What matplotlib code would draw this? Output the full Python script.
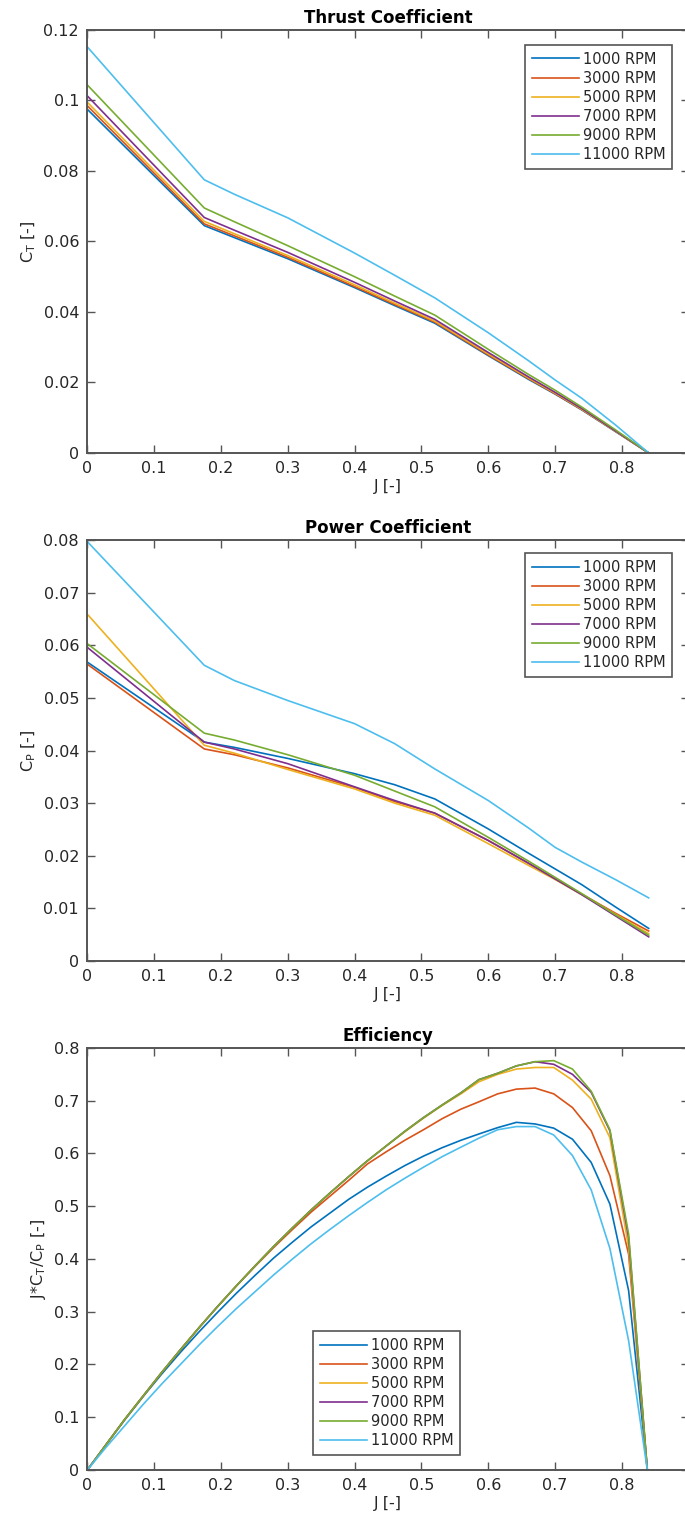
#!/usr/bin/env python3
"""Propeller thrust, power and efficiency curves for several rotor speeds."""

from __future__ import annotations

import matplotlib

matplotlib.use("Agg")
import matplotlib.pyplot as plt
from matplotlib.ticker import FormatStrFormatter

LABELS = ["1000 RPM", "3000 RPM", "5000 RPM", "7000 RPM", "9000 RPM", "11000 RPM"]
COLORS = ["#0072BD", "#D95319", "#EDB120", "#7E2F8E", "#77AC30", "#4DBEEE"]

# advance ratio samples for the coefficient curves
J_COEF = [0, 0.175, 0.22, 0.30, 0.40, 0.46, 0.52, 0.60, 0.66, 0.70, 0.74, 0.79, 0.84]

CT_1000 = [0.0975, 0.0645, 0.0611, 0.0551, 0.0469, 0.0418, 0.0368, 0.0276, 0.0209, 0.0167, 0.0122, 0.0061, 0.0]
CT_3000 = [0.0985, 0.0650, 0.0616, 0.0555, 0.0472, 0.0421, 0.0371, 0.0278, 0.0211, 0.0168, 0.0123, 0.0062, 0.0]
CT_5000 = [0.0995, 0.0657, 0.0622, 0.0560, 0.0477, 0.0425, 0.0374, 0.0281, 0.0213, 0.0170, 0.0124, 0.0062, 0.0]
CT_7000 = [0.1013, 0.0668, 0.0632, 0.0569, 0.0484, 0.0431, 0.0379, 0.0285, 0.0216, 0.0172, 0.0126, 0.0063, 0.0]
CT_9000 = [0.1044, 0.0695, 0.0656, 0.0588, 0.0500, 0.0445, 0.0391, 0.0294, 0.0223, 0.0178, 0.0130, 0.0066, 0.0]
CT_11000 = [0.1152, 0.0775, 0.0734, 0.0667, 0.0567, 0.0504, 0.0440, 0.0341, 0.0262, 0.0207, 0.0155, 0.0080, 0.0]

CP_1000 = [0.0568, 0.0416, 0.0406, 0.0385, 0.0356, 0.0335, 0.0308, 0.0251, 0.0205, 0.0175, 0.0145, 0.0103, 0.0062]
CP_3000 = [0.0564, 0.0403, 0.0392, 0.0367, 0.0330, 0.0303, 0.0281, 0.0229, 0.0186, 0.0156, 0.0127, 0.0091, 0.0057]
CP_5000 = [0.0659, 0.0410, 0.0395, 0.0364, 0.0327, 0.0300, 0.0277, 0.0223, 0.0182, 0.0155, 0.0126, 0.0089, 0.0052]
CP_7000 = [0.0596, 0.0416, 0.0403, 0.0375, 0.0331, 0.0305, 0.0281, 0.0229, 0.0186, 0.0156, 0.0126, 0.0086, 0.0046]
CP_9000 = [0.0603, 0.0433, 0.0420, 0.0392, 0.0353, 0.0323, 0.0293, 0.0235, 0.0190, 0.0159, 0.0128, 0.0088, 0.0049]
CP_11000 = [0.0797, 0.0562, 0.0533, 0.0495, 0.0451, 0.0413, 0.0365, 0.0305, 0.0253, 0.0216, 0.0188, 0.0155, 0.0120]

# advance ratio samples for the efficiency curves
J_EFF = [0.000, 0.028, 0.056, 0.084, 0.112, 0.140, 0.168, 0.195, 0.223, 0.251,
         0.279, 0.307, 0.335, 0.363, 0.391, 0.419, 0.447, 0.475, 0.503, 0.531,
         0.559, 0.586, 0.614, 0.642, 0.670, 0.698, 0.726, 0.754, 0.782, 0.810, 0.838]

EFF_1000 = [0, 0.048, 0.095, 0.140, 0.183, 0.224, 0.263, 0.299, 0.335, 0.369,
            0.402, 0.432, 0.461, 0.487, 0.513, 0.536, 0.557, 0.577, 0.595, 0.611,
            0.625, 0.637, 0.649, 0.659, 0.656, 0.648, 0.627, 0.583, 0.504, 0.340, 0]
EFF_3000 = [0, 0.048, 0.096, 0.141, 0.186, 0.229, 0.271, 0.310, 0.349, 0.386,
            0.422, 0.456, 0.489, 0.519, 0.549, 0.580, 0.603, 0.625, 0.645, 0.666,
            0.684, 0.698, 0.713, 0.722, 0.724, 0.713, 0.687, 0.643, 0.558, 0.409, 0]
EFF_5000 = [0, 0.048, 0.096, 0.141, 0.186, 0.229, 0.271, 0.310, 0.349, 0.387,
            0.424, 0.459, 0.493, 0.525, 0.556, 0.586, 0.614, 0.641, 0.667, 0.691,
            0.713, 0.736, 0.750, 0.760, 0.763, 0.763, 0.739, 0.703, 0.630, 0.422, 0]
EFF_7000 = [0, 0.048, 0.096, 0.141, 0.186, 0.229, 0.271, 0.310, 0.349, 0.387,
            0.424, 0.459, 0.493, 0.525, 0.556, 0.586, 0.614, 0.642, 0.668, 0.692,
            0.715, 0.740, 0.752, 0.766, 0.774, 0.769, 0.750, 0.716, 0.643, 0.440, 0]
EFF_9000 = [0, 0.048, 0.096, 0.141, 0.186, 0.229, 0.271, 0.310, 0.349, 0.387,
            0.424, 0.459, 0.493, 0.525, 0.556, 0.586, 0.614, 0.642, 0.668, 0.692,
            0.715, 0.740, 0.752, 0.766, 0.774, 0.776, 0.760, 0.718, 0.645, 0.447, 0]
EFF_11000 = [0, 0.043, 0.084, 0.125, 0.164, 0.201, 0.238, 0.272, 0.306, 0.338,
             0.370, 0.400, 0.429, 0.456, 0.482, 0.507, 0.531, 0.553, 0.574, 0.594,
             0.612, 0.629, 0.645, 0.651, 0.651, 0.635, 0.596, 0.531, 0.420, 0.245, 0]

CT_SERIES = [CT_1000, CT_3000, CT_5000, CT_7000, CT_9000, CT_11000]
CP_SERIES = [CP_1000, CP_3000, CP_5000, CP_7000, CP_9000, CP_11000]
EFF_SERIES = [EFF_1000, EFF_3000, EFF_5000, EFF_7000, EFF_9000, EFF_11000]

X_TICKS = [0, 0.1, 0.2, 0.3, 0.4, 0.5, 0.6, 0.7, 0.8]
CT_TICKS = [0, 0.02, 0.04, 0.06, 0.08, 0.1, 0.12]
CP_TICKS = [0, 0.01, 0.02, 0.03, 0.04, 0.05, 0.06, 0.07, 0.08]
EFF_TICKS = [0, 0.1, 0.2, 0.3, 0.4, 0.5, 0.6, 0.7, 0.8]

AXIS_GRAY = "#555555"
TEXT_GRAY = "#262626"


def style_axes(ax, title, ylabel, yticks):
    ax.set_xlim(0, 0.9)
    ax.set_ylim(yticks[0], yticks[-1])
    ax.set_xticks(X_TICKS)
    ax.set_yticks(yticks)
    ax.xaxis.set_major_formatter(FormatStrFormatter("%g"))
    ax.yaxis.set_major_formatter(FormatStrFormatter("%g"))
    ax.tick_params(direction="in", top=True, right=True, length=6, width=1.0,
                   color=AXIS_GRAY, labelcolor=TEXT_GRAY, labelsize=11.5, pad=6)
    for spine in ax.spines.values():
        spine.set_color(AXIS_GRAY)
        spine.set_linewidth(1.4)
    ax.set_title(title, fontsize=12, fontweight="bold", color="black", pad=5)
    ax.set_xlabel("J [-]", fontsize=11.5, color=TEXT_GRAY, labelpad=2)
    ax.set_ylabel(ylabel, fontsize=11.5, color=TEXT_GRAY, labelpad=4)


def add_legend(ax, loc, anchor):
    leg = ax.legend(loc=loc, bbox_to_anchor=anchor, borderaxespad=0, fontsize=10.5,
                    handlelength=3.2, handletextpad=0.3, labelspacing=0.28,
                    borderpad=0.45, fancybox=False, framealpha=1)
    leg.get_frame().set_edgecolor(AXIS_GRAY)
    leg.get_frame().set_linewidth(1.2)
    for text in leg.get_texts():
        text.set_color(TEXT_GRAY)


def main() -> int:
    fig = plt.figure(figsize=(6.85, 15.23), dpi=100)
    left, width = 0.1275, 0.878
    ax_ct = fig.add_axes([left, 0.7026, width, 0.2777])
    ax_cp = fig.add_axes([left, 0.3690, width, 0.2764])
    ax_eff = fig.add_axes([left, 0.0348, width, 0.2771])

    for values, label, color in zip(CT_SERIES, LABELS, COLORS):
        ax_ct.plot(J_COEF, values, color=color, linewidth=1.2, label=label)
    for values, label, color in zip(CP_SERIES, LABELS, COLORS):
        ax_cp.plot(J_COEF, values, color=color, linewidth=1.2, label=label)
    for values, label, color in zip(EFF_SERIES, LABELS, COLORS):
        ax_eff.plot(J_EFF, values, color=color, linewidth=1.2, label=label)

    style_axes(ax_ct, "Thrust Coefficient", r"C$_\mathrm{T}$ [-]", CT_TICKS)
    style_axes(ax_cp, "Power Coefficient", r"C$_\mathrm{P}$ [-]", CP_TICKS)
    style_axes(ax_eff, "Efficiency", r"J*C$_\mathrm{T}$/C$_\mathrm{P}$ [-]", EFF_TICKS)

    add_legend(ax_ct, "upper right", (0.9726, 0.9645))
    add_legend(ax_cp, "upper right", (0.9726, 0.969))
    add_legend(ax_eff, "lower left", (0.376, 0.0355))

    fig.savefig("out.png", dpi=100)
    plt.close(fig)
    return 0


if __name__ == "__main__":
    raise SystemExit(main())
